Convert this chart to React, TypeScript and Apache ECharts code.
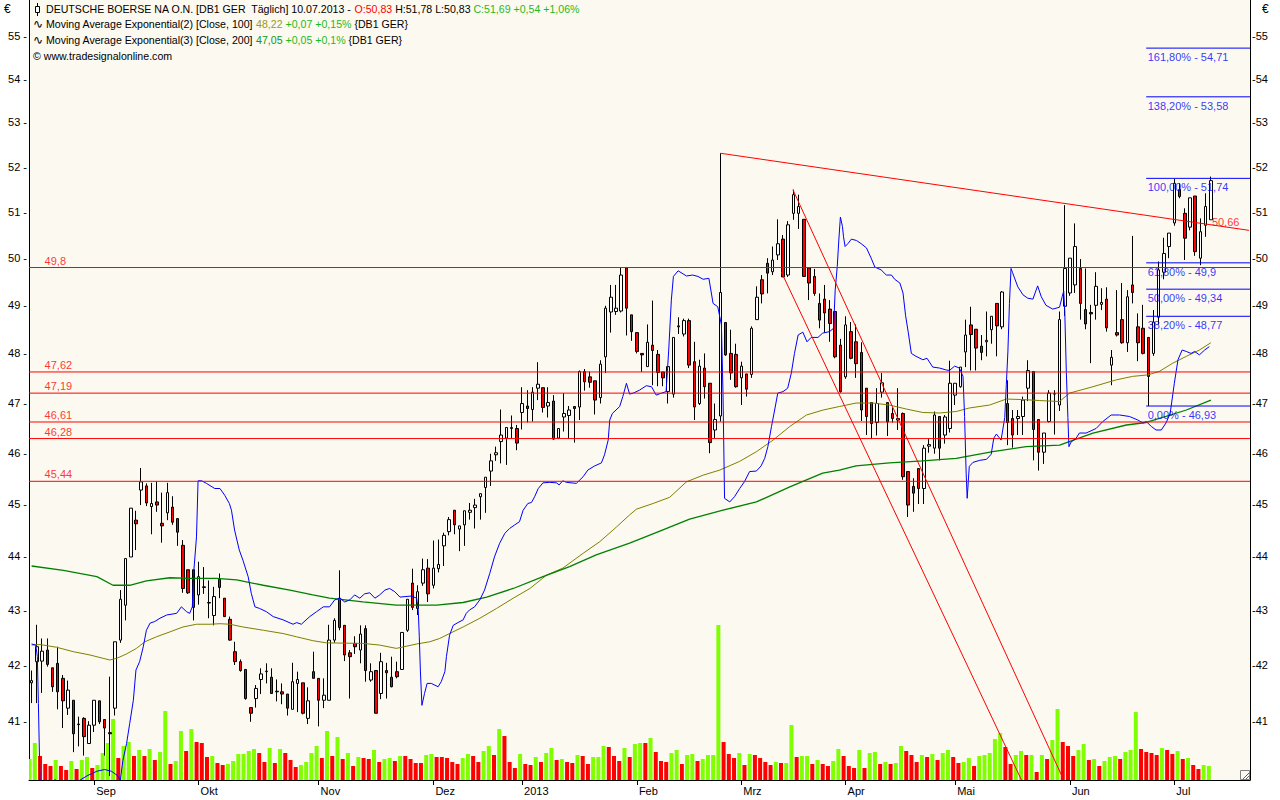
import React, { useEffect, useRef } from "react";
import * as echarts from "echarts";

// ---------- data ----------
const firstDay = "2012-08-16";
const lastDay = "2013-07-10";
const holidays = ["2012-12-24", "2012-12-25", "2012-12-26", "2012-12-31", "2013-01-01", "2013-03-29", "2013-04-01", "2013-05-01"];

const opens = [
  41.68, 42.06, 42.07, 42.27, 41.95, 42.03, 41.76, 41.23, 41.37, 40.95,
  41.05, 40.61, 40.93, 41.36, 41.03, 40.8, 41.23, 42.45, 43.09, 43.99,
  44.69, 45.27, 45.35, 44.95, 45.04, 44.63, 44.83, 44.94, 44.72, 44.21,
  43.75, 43.75, 43.28, 43.43, 43.14, 42.9, 43.57, 43.22, 42.83, 42.24,
  42.06, 41.92, 41.24, 41.4, 41.74, 41.88, 41.78, 41.53, 41.52, 41.48,
  41.21, 41.67, 41.68, 41.05, 41.88, 41.76, 41.37, 41.37, 42.45, 43.22,
  42.72, 42.22, 42.39, 42.27, 42.66, 41.73, 41.9, 41.49, 41.9, 41.78,
  41.88, 41.92, 42.63, 43.5, 43.03, 43.5, 43.78, 43.46, 43.77, 44.2,
  44.47, 44.88, 44.52, 44.6, 44.84, 44.93, 45.14, 45.32, 45.64, 45.96,
  46.22, 46.29, 46.48, 46.48, 46.8, 46.93, 46.86, 47.29, 47.3, 46.93,
  47.03, 46.29, 46.71, 46.74, 46.92, 46.91, 47.63, 47.52, 47.44, 47.1,
  47.93, 48.86, 48.87, 48.88, 49.79, 48.8, 48.43, 48.0, 47.73, 48.17,
  47.98, 47.62, 47.22, 47.17, 48.55, 48.4, 48.68, 47.83, 46.98, 47.7,
  47.39, 46.45, 46.73, 48.64, 48.0, 47.98, 47.5, 47.58, 47.57, 48.7,
  49.54, 49.89, 49.71, 50.07, 50.41, 49.64, 50.97, 50.97, 50.84, 49.79,
  49.61, 49.04, 49.13, 48.92, 48.87, 48.17, 47.52, 48.45, 48.24, 48.02,
  47.29, 47.0, 46.6, 47.21, 47.0, 46.78, 46.65, 46.78, 45.63, 45.34,
  45.69, 45.3, 46.13, 46.09, 46.72, 46.35, 46.48, 47.15, 47.32, 48.03,
  48.59, 48.5, 48.15, 48.24, 48.49, 49.04, 48.55, 46.98, 46.68, 46.68,
  46.72, 47.29, 47.63, 46.66, 46.01, 46.62, 47.17, 46.95, 48.98, 49.26,
  49.43, 49.78, 48.91, 48.85, 49.0, 49.02, 49.13, 47.76, 48.43, 48.7,
  48.22, 49.43, 48.55, 48.52, 48.33, 48.0, 48.75, 49.7, 50.25, 50.76,
  51.49, 50.97, 50.67, 51.35, 50.0, 50.71, 50.83,
];
const highs = [
  41.9, 42.73, 42.48, 42.48, 41.95, 42.33, 41.82, 41.72, 41.37, 41.08,
  41.07, 41.0, 41.37, 41.36, 41.03, 41.79, 42.42, 43.37, 43.96, 44.92,
  44.87, 45.7, 45.4, 45.41, 45.44, 45.22, 45.41, 45.15, 44.72, 44.31,
  43.75, 43.75, 43.9, 43.8, 43.55, 43.43, 43.68, 43.22, 42.88, 42.42,
  42.1, 41.92, 41.24, 41.64, 41.94, 42.03, 41.94, 41.74, 41.67, 41.48,
  42.04, 41.88, 41.68, 41.6, 42.24, 41.76, 41.76, 42.73, 42.85, 43.74,
  42.72, 42.27, 42.52, 42.72, 42.72, 42.03, 41.9, 42.22, 42.04, 42.15,
  42.06, 42.59, 43.2, 43.77, 43.46, 43.96, 43.95, 44.3, 44.32, 44.45,
  44.75, 44.88, 44.58, 44.87, 45.02, 45.1, 45.2, 45.52, 45.98, 46.12,
  46.86, 46.5, 46.74, 46.55, 47.31, 47.25, 47.31, 47.82, 47.3, 47.31,
  47.15, 46.48, 47.19, 46.93, 46.93, 47.65, 47.68, 47.63, 47.44, 47.86,
  48.99, 49.43, 49.43, 49.8, 49.8, 48.8, 48.43, 48.0, 48.6, 49.1,
  48.07, 47.62, 47.73, 48.33, 48.75, 48.72, 48.72, 48.24, 47.87, 48.0,
  47.39, 46.98, 52.3, 48.64, 48.49, 48.2, 47.83, 47.58, 48.56, 49.4,
  49.64, 50.0, 50.25, 50.84, 50.5, 50.8, 51.49, 51.38, 50.84, 49.79,
  49.77, 49.25, 49.43, 49.11, 48.87, 48.3, 48.77, 48.65, 48.6, 48.23,
  47.29, 47.0, 47.29, 47.6, 47.0, 46.9, 47.29, 46.8, 45.63, 45.5,
  45.7, 46.15, 46.28, 46.82, 46.72, 46.75, 47.85, 47.39, 47.72, 48.7,
  48.97, 48.5, 48.38, 48.87, 48.77, 49.04, 49.3, 47.45, 46.85, 46.85,
  47.12, 47.86, 47.63, 46.66, 46.39, 47.25, 47.25, 48.87, 51.15, 50.0,
  50.75, 49.98, 49.78, 49.01, 49.7, 49.36, 49.38, 48.07, 49.32, 49.47,
  49.32, 50.48, 48.83, 49.01, 48.33, 48.9, 49.93, 50.44, 50.54, 51.73,
  51.63, 51.08, 51.31, 51.35, 50.86, 51.41, 51.78,
];
const lows = [
  41.32, 41.32, 41.5, 41.97, 41.52, 41.21, 40.88, 41.11, 40.46, 40.56,
  40.4, 40.61, 40.81, 40.95, 40.4, 40.05, 41.1, 42.4, 42.81, 43.99,
  44.12, 44.98, 44.96, 44.42, 44.85, 44.26, 44.69, 44.6, 44.2, 43.32,
  43.3, 42.81, 43.1, 43.3, 42.85, 42.72, 43.22, 42.88, 42.44, 42.0,
  41.88, 41.38, 40.99, 41.24, 41.48, 41.67, 41.49, 41.35, 41.3, 41.1,
  41.21, 41.16, 41.12, 40.95, 41.76, 40.91, 41.23, 41.37, 42.4, 42.63,
  42.07, 41.4, 42.2, 42.03, 41.7, 41.7, 41.14, 41.39, 41.4, 41.6,
  41.76, 41.92, 42.6, 43.0, 42.91, 43.45, 43.15, 43.4, 43.7, 43.82,
  44.4, 44.42, 44.1, 44.2, 44.7, 44.53, 44.7, 44.83, 45.35, 45.84,
  45.79, 45.76, 46.28, 46.05, 46.46, 46.6, 46.62, 47.05, 46.8, 46.7,
  46.25, 46.27, 46.42, 46.27, 46.2, 46.65, 47.24, 47.3, 46.76, 46.98,
  47.6, 48.43, 48.8, 48.85, 48.37, 48.26, 48.0, 47.62, 47.73, 47.35,
  47.33, 47.33, 46.98, 47.1, 48.4, 48.35, 47.7, 46.65, 46.95, 47.08,
  45.99, 46.28, 46.62, 47.95, 47.46, 47.3, 46.95, 47.12, 47.5, 48.7,
  49.04, 49.25, 49.64, 49.96, 49.6, 49.6, 50.83, 50.63, 49.6, 49.11,
  49.2, 48.52, 48.43, 48.24, 47.9, 47.2, 47.48, 47.88, 47.5, 46.63,
  46.35, 46.27, 46.34, 47.1, 46.33, 46.6, 46.45, 45.47, 44.75, 44.85,
  45.0, 45.0, 46.0, 45.98, 45.85, 46.18, 46.4, 46.95, 47.3, 47.72,
  47.65, 47.65, 47.86, 47.94, 48.2, 47.94, 48.5, 46.15, 46.1, 46.35,
  46.35, 47.03, 45.85, 45.65, 45.78, 46.6, 46.36, 46.83, 48.78, 49.2,
  49.26, 48.7, 48.5, 47.8, 48.7, 48.9, 48.45, 47.35, 48.35, 48.2,
  48.03, 49.04, 47.84, 47.98, 46.93, 47.95, 48.6, 49.55, 50.0, 50.7,
  51.3, 49.96, 50.6, 50.05, 49.85, 50.46, 50.83,
];
const closes = [
  41.72, 42.33, 42.25, 42.01, 41.61, 41.52, 41.36, 41.55, 40.78, 40.94,
  40.73, 40.93, 41.37, 40.99, 40.88, 40.78, 42.42, 43.2, 43.96, 44.92,
  44.62, 45.43, 45.02, 45.01, 44.98, 44.58, 45.22, 44.65, 44.46, 43.4,
  43.32, 43.05, 43.62, 43.42, 43.13, 43.25, 43.42, 42.88, 42.45, 42.06,
  41.9, 41.4, 41.14, 41.58, 41.84, 41.89, 41.49, 41.52, 41.48, 41.23,
  41.7, 41.74, 41.14, 41.36, 41.76, 41.37, 41.46, 42.45, 42.81, 42.68,
  42.18, 42.15, 42.33, 42.56, 41.9, 41.88, 41.14, 42.06, 41.86, 41.61,
  41.79, 42.59, 43.2, 43.05, 43.34, 43.75, 43.3, 43.78, 43.85, 44.4,
  44.7, 44.6, 44.58, 44.87, 44.88, 44.98, 45.2, 45.52, 45.84, 46.0,
  46.35, 46.5, 46.5, 46.19, 46.98, 46.88, 47.21, 47.37, 46.9, 47.0,
  46.27, 46.48, 46.78, 46.85, 46.88, 47.63, 47.42, 47.41, 47.05, 47.78,
  48.94, 49.17, 48.94, 49.64, 48.94, 48.45, 48.04, 47.97, 48.23, 48.06,
  47.61, 47.5, 47.73, 48.33, 48.57, 48.68, 47.76, 46.91, 47.74, 47.32,
  46.2, 46.66, 49.27, 47.97, 47.6, 47.32, 47.74, 47.27, 48.52, 49.17,
  49.24, 49.68, 49.96, 50.31, 49.6, 50.72, 51.38, 51.12, 49.61, 49.47,
  49.25, 48.69, 48.84, 48.62, 47.93, 47.22, 48.59, 47.9, 47.79, 46.85,
  46.72, 46.58, 46.98, 47.4, 46.61, 46.68, 46.68, 45.53, 44.98, 45.21,
  45.3, 46.09, 46.16, 46.75, 46.09, 46.71, 47.39, 47.39, 47.72, 48.38,
  48.39, 48.11, 48.02, 48.27, 48.77, 48.57, 49.28, 46.6, 46.35, 46.72,
  47.05, 47.65, 46.46, 46.01, 46.39, 47.19, 47.18, 48.7, 49.78, 50.0,
  50.25, 49.04, 48.61, 48.82, 49.4, 49.06, 48.53, 47.92, 48.38, 48.22,
  49.18, 49.27, 48.22, 48.0, 47.53, 48.65, 49.75, 50.1, 50.54, 51.63,
  51.34, 50.43, 51.31, 50.14, 50.57, 51.12, 51.69,
];
const volumes = [
  21, 37, 24, 16, 14, 20, 14, 10, 19, 11,
  20, 23, 12, 15, 27, 37, 61, 22, 34, 38,
  24, 30, 24, 31, 20, 28, 69, 16, 19, 49,
  29, 51, 38, 37, 23, 24, 17, 15, 16, 19,
  26, 26, 29, 31, 27, 18, 32, 17, 31, 27,
  20, 13, 15, 18, 27, 34, 22, 49, 24, 43,
  21, 27, 14, 23, 22, 21, 30, 18, 21, 22,
  19, 24, 24, 21, 17, 17, 25, 26, 23, 23,
  22, 18, 16, 22, 26, 24, 18, 29, 34, 25,
  51, 44, 18, 12, 26, 16, 15, 23, 18, 27,
  32, 20, 21, 18, 17, 25, 24, 16, 23, 23,
  34, 33, 24, 19, 32, 23, 36, 37, 37, 42,
  28, 19, 18, 27, 30, 16, 25, 26, 19, 21,
  25, 25, 155, 38, 26, 22, 27, 15, 26, 25,
  22, 18, 15, 18, 17, 17, 55, 23, 24, 24,
  16, 20, 16, 14, 19, 31, 24, 14, 12, 30,
  12, 27, 28, 16, 18, 16, 17, 34, 29, 25,
  18, 25, 23, 26, 20, 27, 30, 23, 17, 18,
  22, 14, 24, 25, 27, 41, 47, 33, 16, 25,
  29, 25, 25, 8, 25, 21, 40, 71, 38, 34,
  24, 30, 36, 20, 21, 14, 19, 23, 24, 21,
  28, 30, 68, 31, 28, 27, 25, 32, 30, 26,
  29, 21, 22, 15, 11, 15, 14,
];
const volumeDirection = [
  "GGRRRGRRGR", "GGRGGGGRGG", "RGRGRGGRGG", "RGRRRGRRGG", "GGGGRRGRGR",
  "RRGGGGRGRG", "RGRGRRGRGG", "RGRRRRGGRR", "RRRGGRRGGR", "GRRRGRRGRG",
  "GRGRRGRRGG", "GRRRGRGGRG", "RRRGGRGGRG", "GGGRRRGRGR", "RRRGRGGRGG",
  "RGRRGGRRRG", "RGGRGRGGRR", "RGRGRGGRRG", "GRGGGGGRRG", "GRGRGRGGRR",
  "RGGRGRGGGR", "GGGRRRRGRR", "GRGRRGG",
].join("");

const bluePoints = [
  [0,42.38],[0.8,42.36],[1.1,42.15],[1.3,41.31],[1.6,39.98],[2.9,39.8],[4.5,39.99],[5.8,39.8],[9.3,39.98],[10.8,40.06],
  [12.5,40.13],[14,40.16],[15.3,40.13],[16.4,40.06],[17,39.98],[17.5,40.32],[18.2,40.61],[18.8,40.96],[19.5,41.37],[20,41.91],
  [20.7,42.06],[21.4,42.33],[22,42.63],[22.7,42.76],[23.6,42.79],[24.6,42.85],[25.9,42.91],[27.8,42.94],[28.7,43.06],[29.7,42.97],
  [30.3,42.94],[30.8,43.06],[31.1,43.74],[31.6,44.37],[31.9,45.45],[32.6,45.45],[33.5,45.4],[35.1,45.3],[36.1,45.3],[37,45.17],
  [37.9,45.01],[38.3,44.88],[38.9,44.5],[39.8,44.12],[40.5,43.93],[41.5,43.62],[42.1,43.31],[42.8,43.06],[43.7,43.03],[45,42.97],
  [46.3,42.88],[48.2,42.82],[50.1,42.74],[50.8,42.77],[51.7,42.74],[53.3,42.88],[54.6,42.97],[55.9,43.06],[57.1,43.06],[58.1,43.19],
  [59.1,43.22],[60,43.15],[61,43.19],[61.9,43.28],[62.9,43.22],[63.8,43.3],[64.8,43.32],[65.8,43.22],[66.7,43.28],[67.7,43.37],
  [68.6,43.4],[69.6,43.34],[70.6,43.24],[72.8,43.26],[73.8,43.22],[74.1,43],[74.3,42.51],[74.5,41.91],[74.8,41.28],[75.3,41.49],
  [75.8,41.67],[76.6,41.67],[77.9,41.61],[78.5,41.7],[79.2,41.88],[79.5,42.15],[80.1,42.54],[80.8,42.72],[81.7,42.77],[82.7,42.82],
  [83.3,42.94],[83.9,43],[84.9,43.06],[85.9,43.19],[86.8,43.37],[87.8,43.68],[88.7,43.99],[89.7,44.25],[90.7,44.44],[91.6,44.53],
  [92.6,44.6],[93.5,44.66],[94.2,44.88],[95.1,45.01],[95.8,45.03],[96.4,45.14],[97.1,45.3],[98,45.41],[99.3,45.42],[100.6,45.41],
  [101.1,45.37],[101.8,45.45],[102.5,45.42],[104.4,45.4],[105.7,45.53],[106.6,45.66],[107.9,45.74],[109.2,45.8],[109.8,45.96],[110.5,46.25],
  [110.8,46.65],[111.3,46.78],[112.7,46.92],[113.3,47.12],[114,47.39],[114.6,47.17],[115.3,47.19],[116.5,47.25],[117.8,47.34],[118.8,47.32],
  [119.7,47.15],[120.7,47.19],[121.6,47.22],[122.1,48.07],[122.6,49.11],[123,49.61],[123.9,49.73],[125.5,49.62],[126.7,49.64],[127.7,49.61],
  [128.7,49.55],[129.8,49.57],[130.6,49.04],[131.5,48.97],[132.2,48.59],[132.5,47.19],[132.8,45.11],[133.8,45.04],[134.7,45.14],[135.7,45.3],
  [136.6,45.43],[137.6,45.63],[138.9,45.64],[139.8,45.74],[140.5,45.89],[141.1,46.12],[141.8,46.52],[142.4,46.85],[143,47.19],[144,47.22],
  [144.9,47.29],[145.6,47.6],[146.2,48],[146.9,48.38],[147.8,48.44],[148.6,48.24],[149.4,48.33],[150.7,48.33],[151.6,48.42],[152.9,48.45],
  [153.7,48.52],[154,49.32],[154.4,49.82],[154.7,50.39],[155,50.89],[155.4,50.68],[155.6,50.46],[155.9,50.25],[156.5,50.32],[157.1,50.41],
  [158.1,50.38],[159,50.31],[160,50.22],[160.9,50],[161.6,49.81],[162.8,49.75],[163.8,49.64],[164.8,49.64],[165.4,49.55],[166.4,49.47],
  [167,49.26],[167.5,48.78],[168,48.44],[168.6,48],[169.5,47.94],[170.8,47.87],[171.6,47.9],[172.7,47.72],[174,47.7],[175.3,47.66],
  [175.9,47.65],[176.9,47.74],[177.8,47.7],[178.5,47.53],[178.8,46.72],[179.1,45.6],[179.3,45.11],[179.7,45.73],[180.4,45.81],[181.7,45.85],
  [183,45.87],[183.9,45.97],[184.4,46.29],[184.9,46.37],[185.8,46.25],[186.5,46.7],[186.8,47.36],[187.1,48.03],[187.4,49.04],[187.7,49.78],
  [188,49.69],[189,49.39],[190,49.22],[190.9,49.15],[191.9,49.13],[192.8,49.41],[193.5,49.18],[194.4,49],[195.7,48.92],[197,48.96],
  [197.5,49.18],[197.8,49.3],[198,48.88],[198.3,47.61],[198.6,46.7],[198.8,46.12],[199.2,46.21],[200.2,46.29],[200.8,46.39],[202.1,46.39],
  [204,46.48],[205.3,46.62],[206.9,46.75],[208.5,46.75],[210.4,46.72],[212,46.65],[213,46.59],[213.6,46.62],[214.6,46.52],[215.5,46.45],
  [216.5,46.45],[217.4,46.59],[218.2,46.78],[219,47.39],[219.7,47.87],[220.5,48.07],[221.3,48.04],[222.2,48],[222.9,48.04],[223.8,47.97],
  [224.8,48.07],[225.7,48.14],
];
const ema100Points = [
  [0,42.36],[1.6,42.37],[4.8,42.32],[8,42.24],[11.2,42.18],[13.7,42.12],[15,42.09],[16.3,42.12],[18.2,42.2],[20.1,42.3],
  [21.7,42.42],[23.9,42.51],[26.5,42.6],[29,42.69],[31.6,42.74],[34.2,42.74],[36.1,42.75],[38,42.74],[40.5,42.69],[44.4,42.63],
  [48.2,42.57],[50.8,42.51],[53.9,42.44],[56.5,42.4],[63.5,42.39],[66.7,42.36],[69.9,42.3],[73.8,42.38],[76.3,42.42],[78.2,42.48],
  [80.1,42.57],[82.7,42.69],[85.9,42.85],[89.1,43.03],[92.3,43.22],[95.5,43.4],[98.7,43.65],[101.8,43.78],[105.7,44.06],[108.9,44.28],
  [112.1,44.56],[114.6,44.79],[115.9,44.9],[119.1,45.01],[122.3,45.13],[125.5,45.43],[128.7,45.56],[131.9,45.66],[135.7,45.83],[138.9,46.02],
  [142.1,46.25],[145.3,46.52],[148.5,46.75],[151.7,46.85],[154.8,46.92],[158,46.99],[161.2,46.99],[164.4,46.95],[167.6,46.87],[170.8,46.8],
  [174,46.79],[177.2,46.82],[179.7,46.89],[183.6,46.95],[186.8,47.07],[190,47.06],[193.2,47.04],[197,47.02],[198.9,47.19],[203.4,47.32],
  [207.9,47.46],[211,47.53],[213.9,47.56],[216.1,47.63],[218.7,47.8],[221.3,47.94],[223.8,48.07],[226,48.22],
];
const ema200Points = [
  [0,43.82],[6.1,43.74],[12.5,43.62],[15.6,43.46],[18.8,43.46],[22,43.54],[26.5,43.6],[30.3,43.59],[35.4,43.59],[39.3,43.56],
  [44.4,43.46],[49.5,43.37],[53.9,43.28],[57.1,43.22],[63.5,43.15],[69.9,43.09],[73.8,43.09],[77.6,43.09],[82.7,43.14],[87.2,43.24],
  [92.3,43.4],[98,43.62],[103.1,43.81],[108.2,44.03],[114.6,44.25],[120.4,44.48],[126.1,44.71],[132.5,44.88],[138.9,45.04],[145.3,45.33],
  [151.6,45.6],[154.8,45.66],[158,45.74],[164.4,45.8],[170.8,45.84],[177.2,45.89],[184.2,46.02],[190.6,46.12],[197,46.15],[203.4,46.39],
  [209.8,46.55],[213.6,46.6],[217.4,46.72],[221.3,46.85],[226,47.05],
];

const levelValues = [45.44, 46.28, 46.61, 47.19, 47.62, 49.8];
const levelLabels = ["45,44", "46,28", "46,61", "47,19", "47,62", "49,8"];
const fibValues = [54.71, 53.58, 51.74, 49.9, 49.34, 48.77, 46.93];
const fibLabels = ["161,80% - 54,71", "138,20% - 53,58", "100,00% - 51,74", "61,80% - 49,9", "50,00% - 49,34", "38,20% - 48,77", "0,00% - 46,93"];
const fibStartIndex = 213.6;
const trendTop = [[132, 52.3], [233.3, 50.6]];
const channelUpper = [[145.9, 51.49], [197.8, 39.98]];
const channelLower = [[143.7, 49.7], [189.7, 39.98]];
const trendLabel = { index: 226.1, value: 50.66, text: "50,66" };
const priceTicks = [41, 42, 43, 44, 45, 46, 47, 48, 49, 50, 51, 52, 53, 54, 55];
const priceRange = [39.98, 55.85];
const monthLabels: Record<string, string> = { "02": "Feb", "03": "Mrz", "04": "Apr", "05": "Mai", "06": "Jun", "07": "Jul", "08": "Aug", "09": "Sep", "10": "Okt", "11": "Nov", "12": "Dez" };

// ---------- helpers ----------
const FONT = '"Liberation Sans", Arial, sans-serif';
const HEADER_SIZE = 10.6;
const SLOTS = 234;
const RED = "#FF0000";
const L = (v: number) => Math.log(v);

function tradingDays(start: string, end: string, skip: string[]) {
  const out: string[] = [];
  const d = new Date(start + "T00:00:00Z");
  const e = new Date(end + "T00:00:00Z");
  while (d <= e) {
    const iso = d.toISOString().slice(0, 10);
    const wd = d.getUTCDay();
    if (wd !== 0 && wd !== 6 && !skip.includes(iso)) out.push(iso);
    d.setUTCDate(d.getUTCDate() + 1);
  }
  return out;
}

function buildOption() {
  const dates = tradingDays(firstDay, lastDay, holidays);
  const categories = [...dates];
  for (let k = categories.length; k < SLOTS; k++) categories.push("pad" + k);
  const isMonthStart = categories.map((d, i) => i > 0 && i < dates.length && dates[i].slice(5, 7) !== dates[i - 1].slice(5, 7));
  const monthText = (d: string) => {
    const m = d.slice(5, 7);
    return m === "01" ? d.slice(0, 4) : monthLabels[m] || "";
  };

  const candleData = opens.map((o, i) => [L(o), L(closes[i]), L(lows[i]), L(highs[i])]);
  const volData = volumes.map((v, i) => ({ value: v, itemStyle: { color: volumeDirection[i] === "G" ? "#80FF00" : RED } }));

  const line = (pts: number[][], color: string, z: number, width = 1) => ({
    type: "line", xAxisIndex: 1, yAxisIndex: 0, silent: true, symbol: "none", showSymbol: false, clip: true, z,
    data: pts.map(([x, v]) => [x, L(v)]), lineStyle: { color, width, opacity: 1, type: "solid" }, itemStyle: { color }, animation: false,
  });
  const labelSeries = (items: { x: number; v: number; t: string }[], color: string, offset: number[], z = 8) => ({
    type: "scatter", xAxisIndex: 1, yAxisIndex: 0, silent: true, symbolSize: 1, z,
    itemStyle: { color: "rgba(0,0,0,0)" },
    data: items.map((it) => ({ value: [it.x, L(it.v)], label: { formatter: it.t } })),
    label: { show: true, position: "right", distance: 1, offset, color, fontSize: 11, fontFamily: FONT },
  });

  const yCommon = {
    type: "value", min: L(priceRange[0]), max: L(priceRange[1]), scale: true,
    splitLine: { show: false }, axisTick: { show: false },
    axisLine: { show: true, onZero: false, lineStyle: { color: "#000", width: 1 } },
  };

  const series: any[] = [
    { type: "bar", xAxisIndex: 0, yAxisIndex: 2, data: volData, barWidth: 4, barGap: "0%", z: 1, silent: true },
    { type: "bar", xAxisIndex: 0, yAxisIndex: 2, data: [], barWidth: 4, z: 1, silent: true },
    {
      type: "candlestick", xAxisIndex: 0, yAxisIndex: 0, data: candleData, barWidth: 3, z: 3, silent: true,
      itemStyle: { color: "#FFFFFF", color0: RED, borderColor: "#000000", borderColor0: "#000000", borderColorDoji: "#000000", borderWidth: 1 },
    },
    line(ema100Points, "#808000", 4),
    line(ema200Points, "#008000", 4, 1.3),
    line(bluePoints, "#0000FF", 5),
    line(trendTop, RED, 6),
    line(channelUpper, RED, 6),
    line(channelLower, RED, 6),
    ...levelValues.map((v) => line([[-0.5, v], [SLOTS - 0.5, v]], RED, 6)),
    ...fibValues.map((v) => line([[fibStartIndex, v], [SLOTS - 0.5, v]], "#0000FF", 6)),
    labelSeries(levelValues.map((v, i) => ({ x: 2.2, v, t: levelLabels[i] })), RED, [0, -7]),
    labelSeries(fibValues.map((v, i) => ({ x: fibStartIndex, v, t: fibLabels[i] })), "#0000FF", [0, 9]),
    labelSeries([{ x: trendLabel.index, v: trendLabel.value, t: trendLabel.text }], RED, [-1, -6]),
  ];

  const rich = (fill: string) => ({ fill, fontSize: HEADER_SIZE, fontFamily: FONT });
  const headerStyle = (text: string, y: number, x = 46) => ({
    type: "text", x, y, z: 100, silent: true,
    style: {
      text, fill: "#000", font: `${HEADER_SIZE}px ${FONT}`, verticalAlign: "middle", align: "left",
      rich: { k: rich("#000"), r: rich(RED), g: rich("#1DB91D"), o: rich("#9A9A1A"), d: rich("#109A10") },
    },
  });

  return {
    animation: false,
    backgroundColor: "#FFFFFF",
    grid: { left: 29, right: 30, top: 0, bottom: 20, show: true, backgroundColor: "#FCF9F0", borderWidth: 0 },
    xAxis: [
      {
        type: "category", data: categories, boundaryGap: true, gridIndex: 0,
        axisLine: { show: true, onZero: false, lineStyle: { color: "#000", width: 1 } },
        axisTick: { show: true, alignWithLabel: true, length: 5, interval: (i: number) => isMonthStart[i], lineStyle: { color: "#000" } },
        axisLabel: {
          interval: (i: number) => isMonthStart[i], formatter: (v: string) => monthText(v),
          align: "left", padding: [0, 0, 0, 2], margin: 5, color: "#000", fontSize: 11, fontFamily: FONT,
        },
        splitLine: { show: false },
      },
      { type: "value", gridIndex: 0, min: -0.5, max: SLOTS - 0.5, show: false },
    ],
    yAxis: [
      {
        ...yCommon, position: "left",
        axisLabel: {
          customValues: priceTicks.map(L), formatter: (v: number) => `${Math.round(Math.exp(v))} -`,
          margin: 2, color: "#000", fontSize: 11, fontFamily: FONT,
        },
      },
      {
        ...yCommon, position: "right",
        axisLabel: {
          customValues: priceTicks.map(L), formatter: (v: number) => `-${Math.round(Math.exp(v))}`,
          margin: 2, color: "#000", fontSize: 11, fontFamily: FONT,
        },
      },
      { type: "value", min: 0, max: 780, show: false },
    ],
    series,
    graphic: [
      { type: "text", x: 4, y: 9, silent: true, style: { text: "€", font: `12px ${FONT}`, fill: "#000", verticalAlign: "middle" } },
      { type: "text", x: 1262, y: 9, silent: true, style: { text: "€", font: `12px ${FONT}`, fill: "#000", verticalAlign: "middle" } },
      { type: "line", z: 100, silent: true, shape: { x1: 37.5, y1: 3, x2: 37.5, y2: 16 }, style: { stroke: "#000", lineWidth: 1 } },
      { type: "rect", z: 101, silent: true, shape: { x: 35.5, y: 6.5, width: 4, height: 6 }, style: { fill: "#fff", stroke: "#000", lineWidth: 1 } },
      headerStyle("{k|DEUTSCHE BOERSE NA O.N. [DB1 GER  Täglich] 10.07.2013 - }{r|O:50,83}{k| H:51,78 L:50,83 }{g|C:51,69 +0,54 +1,06%}", 9),
      { type: "text", x: 33, y: 24, z: 100, silent: true, style: { text: "∿", font: '12px "DejaVu Sans"', fill: "#000", verticalAlign: "middle" } },
      headerStyle("{k|Moving Average Exponential(2) [Close, 100] }{o|48,22}{g| +0,07 +0,15%} {DB1 GER}", 24),
      { type: "text", x: 33, y: 40, z: 100, silent: true, style: { text: "∿", font: '12px "DejaVu Sans"', fill: "#000", verticalAlign: "middle" } },
      headerStyle("{k|Moving Average Exponential(3) [Close, 200] }{d|47,05}{g| +0,05 +0,1%} {DB1 GER}", 40),
      headerStyle("© www.tradesignalonline.com", 56, 33),
      { type: "rect", z: 100, silent: true, shape: { x: 1240.5, y: 770.5, width: 9, height: 9 }, style: { fill: "#FCF9F0", stroke: "#808080", lineWidth: 1 } },
      { type: "line", z: 101, silent: true, shape: { x1: 1243, y1: 779, x2: 1249, y2: 773 }, style: { stroke: "#606060", lineWidth: 1 } },
      { type: "line", z: 101, silent: true, shape: { x1: 1246, y1: 779, x2: 1249, y2: 776 }, style: { stroke: "#606060", lineWidth: 1 } },
    ],
  };
}

export default function App() {
  const ref = useRef<HTMLDivElement>(null);
  useEffect(() => {
    document.body.style.margin = "0";
    const chart = echarts.init(ref.current as HTMLDivElement, null, { renderer: "svg" });
    chart.setOption(buildOption() as any);
    return () => chart.dispose();
  }, []);
  return <div ref={ref} style={{ position: "absolute", left: 0, top: 0, width: 1280, height: 800 }} />;
}
